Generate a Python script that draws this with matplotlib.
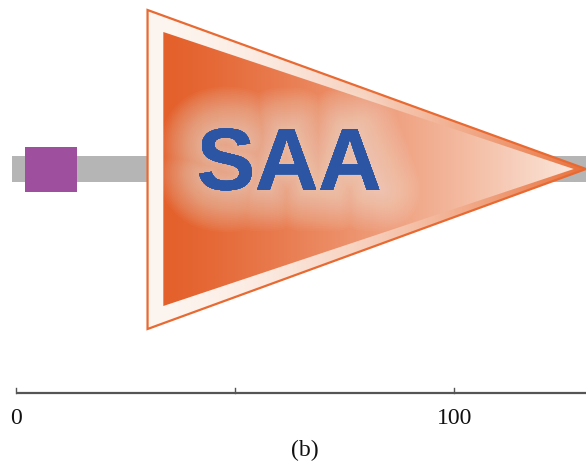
import numpy as np
import matplotlib
matplotlib.use("Agg")
import matplotlib.pyplot as plt
from matplotlib.patches import Polygon, Rectangle
import matplotlib.patheffects as pe
from matplotlib.colors import to_rgb

# Protein architecture (residue coordinates)
protein_length = 130
signal_peptide = (2, 14)
saa_domain = (30, 130)
domain_label = "SAA"
scale_ticks = [0, 50, 100]
scale_labels = ["0", "", "100"]
panel_label = "(b)"

fig = plt.figure(figsize=(5.86, 4.66), dpi=100)
ax = fig.add_axes([0, 0, 1, 1])
ax.set_axis_off()

# Backbone
ax.add_patch(Rectangle((-1, -13), protein_length + 1, 26, facecolor="#b5b5b5",
                       edgecolor="none", zorder=1))

# Signal peptide
ax.add_patch(Rectangle((signal_peptide[0], -22.5), signal_peptide[1] - signal_peptide[0], 45,
                       facecolor="#9e4f9e", edgecolor="none", zorder=2))


def gradient_image(c_left, c_right, gamma=1.0, n=300):
    t = np.linspace(0, 1, n) ** gamma
    a = np.array(to_rgb(c_left))
    b = np.array(to_rgb(c_right))
    row = a[None, :] * (1 - t[:, None]) + b[None, :] * t[:, None]
    return np.repeat(row[None, :, :], 2, axis=0)


# SAA domain: outer bevel triangle
d0, d1 = saa_domain
outer_pts = [[d0, 159], [d1, 0], [d0, -160]]
ax.add_patch(Polygon(outer_pts, closed=True, facecolor="none",
                     edgecolor="#e86a32", lw=1.6, zorder=6))
im_o = ax.imshow(gradient_image("#fdf5f0", "#e8703a", gamma=1.8),
                 extent=[d0, d1, -160, 159], aspect="auto", interpolation="bilinear", zorder=3)
im_o.set_clip_path(Polygon(outer_pts, closed=True, transform=ax.transData))

# inner triangle
inner_pts = [[d0 + 3.6, 137], [d1 - 2.8, 0], [d0 + 3.6, -137]]
im_i = ax.imshow(gradient_image("#e4602b", "#fbe6da", gamma=1.25),
                 extent=[d0 + 3.6, d1 - 2.8, -137, 137], aspect="auto",
                 interpolation="bilinear", zorder=5)
im_i.set_clip_path(Polygon(inner_pts, closed=True, transform=ax.transData))

# Domain name with soft glow
glow = [pe.withStroke(linewidth=w, foreground=(1.0, 0.97, 0.94, 0.03))
        for w in np.arange(60, 1, -2.5)]
ax.text(62.3, 2, domain_label, ha="center", va="center", fontsize=63,
        fontweight="bold", family="Liberation Sans", color="#2c55a3",
        path_effects=glow + [pe.Normal()], zorder=7)

# Scale bar
ax_y = -224
ax.plot([0, protein_length], [ax_y, ax_y], color="#555555", lw=1.6,
        solid_capstyle="butt", zorder=2)
for tk, lab in zip(scale_ticks, scale_labels):
    ax.plot([tk, tk], [ax_y, ax_y + 5], color="#555555", lw=1.0, zorder=2)
    if lab:
        ax.text(tk, ax_y - 25, lab, ha="center", va="center", fontsize=17,
                family="Liberation Serif", color="#111111")
ax.text(65.8, -281, panel_label, ha="center", va="center", fontsize=17,
        family="Liberation Serif", color="#111111")

ax.set_xlim(-3.65, 130)
ax.set_ylim(-297, 169)

fig.savefig("out.png", dpi=100)
